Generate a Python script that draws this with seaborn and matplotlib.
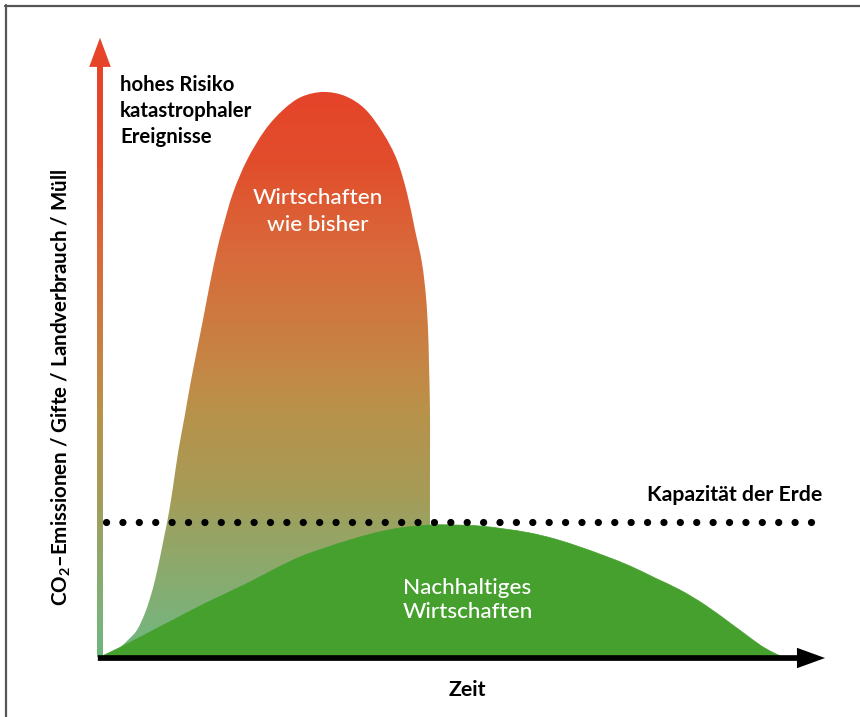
import numpy as np
import pandas as pd
import matplotlib
matplotlib.use("Agg")
import matplotlib.pyplot as plt
import seaborn as sns
from matplotlib.colors import LinearSegmentedColormap
from matplotlib.patches import PathPatch, FancyArrow
from matplotlib.path import Path
from matplotlib.lines import Line2D

sns.set_theme(style="white")
plt.rcParams["font.family"] = ["Lato", "DejaVu Sans"]
plt.rcParams["mathtext.fontset"] = "custom"
plt.rcParams["mathtext.rm"] = "Lato"
plt.rcParams["mathtext.bf"] = "Lato:bold"

# ---------------- data (time 0..100, level 0..100) ----------------
green_t = [0, 3.47, 6.94, 10.42, 13.89, 17.36, 20.83, 24.31, 27.78, 31.25, 34.72,
           38.19, 41.67, 45.83, 49.31, 52.78, 56.25, 59.72, 63.19, 66.67, 70.14,
           73.61, 77.08, 80.56, 84.03, 87.5, 89.58, 91.67, 93.33, 94.86]
green_v = [0, 2.0, 4.17, 6.33, 8.5, 10.5, 12.5, 14.67, 16.67, 18.17, 19.5,
           20.67, 21.5, 22.0, 22.0, 21.83, 21.33, 20.67, 19.67, 18.33, 16.83,
           15.17, 13.17, 11.17, 8.67, 5.67, 3.83, 2.0, 0.83, 0]

bau_t = [0, 1.11, 2.36, 3.89, 5.14, 6.25, 7.08, 7.64, 8.26, 8.82, 9.38, 9.86,
         10.28, 10.9, 11.74, 12.57, 13.47, 14.38, 15.28, 16.25, 17.08, 18.47,
         20.42, 22.92, 25.42, 27.92, 30.97, 34.03, 36.81, 39.31, 41.25, 42.64,
         43.75, 44.72, 45.28, 45.56, 45.69, 45.83, 45.83, 45.83, 45.83]
bau_v = [0, 0.33, 1.17, 2.83, 4.5, 7.33, 10.33, 12.83, 16.17, 19.5, 22.83,
         26.17, 29.5, 34.5, 40.0, 45.67, 51.17, 56.67, 62.33, 67.83, 71.67,
         77.33, 82.83, 87.83, 91.17, 93.33, 94.17, 93.5, 91.33, 87.33, 82.83,
         77.33, 71.17, 65.67, 60.0, 54.5, 49.0, 41.17, 32.83, 22.0, 0]

capacity = 22.5

grad_levels = [0, 4.5, 22.8, 26.2, 41.2, 46.2, 67.8, 82.8, 94.2, 103.2]
grad_colors = ["#6ab67e", "#78b47c", "#9ca160", "#a49c58", "#b9924a",
               "#c28a46", "#d9693a", "#e24d2c", "#e5442a", "#e8452a"]


def smooth_closed_path(xs, ys):
    """Bezier path through the read points, closed along the baseline."""
    P = np.column_stack([xs, ys]).astype(float)
    ext = np.vstack([P[0], P, P[-1]])
    verts = [P[0]]
    codes = [Path.MOVETO]
    for i in range(len(P) - 1):
        p0, p1, p2, p3 = ext[i], ext[i + 1], ext[i + 2], ext[i + 3]
        verts += [p1 + (p2 - p0) / 6.0, p2 - (p3 - p1) / 6.0, p2]
        codes += [Path.CURVE4] * 3
    verts.append(P[0])
    codes.append(Path.CLOSEPOLY)
    return Path(np.array(verts), codes)


# ---------------- figure ----------------
W, H, DPI = 860, 717, 100
fig = plt.figure(figsize=(W / DPI, H / DPI), dpi=DPI)
fig.patch.set_facecolor("white")
ax = fig.add_axes([100 / W, 60 / H, 720 / W, 600 / H])
ax.axis("off")

top = grad_levels[-1]
cmap = LinearSegmentedColormap.from_list(
    "bau", [(l / top, c) for l, c in zip(grad_levels, grad_colors)])
grad = np.linspace(0, 1, 512).reshape(-1, 1)

# business-as-usual shape with vertical gradient
bau_patch = PathPatch(smooth_closed_path(bau_t, bau_v), facecolor="none",
                      edgecolor="none", transform=ax.transData)
ax.add_patch(bau_patch)
im = ax.imshow(grad, cmap=cmap, origin="lower", aspect="auto",
               extent=[0, 47, 0, top], zorder=1, interpolation="bilinear")
im.set_clip_path(bau_patch)

# sustainable shape
green_patch = PathPatch(smooth_closed_path(green_t, green_v),
                        facecolor="#46a02e", edgecolor="#46a02e", lw=0.5,
                        zorder=2)
ax.add_patch(green_patch)

# capacity dotted line
cap_df = pd.DataFrame({"t": [0.83, 99.6], "v": [capacity, capacity]})
sns.lineplot(data=cap_df, x="t", y="v", ax=ax, color="black", lw=5.2,
             linestyle=(0, (0.01, 2.26)), dash_capstyle="round", zorder=4,
             legend=False)

# y arrow (gradient)
yarr = FancyArrow(0, -0.17, 0, top + 0.17, width=0.83, head_width=3.0,
                  head_length=4.85, length_includes_head=True,
                  facecolor="none", edgecolor="none", transform=ax.transData)
ax.add_patch(yarr)
yarr.set_clip_on(False)
im2 = ax.imshow(grad, cmap=cmap, origin="lower", aspect="auto",
                extent=[-2, 2, 0, top], zorder=3, interpolation="bilinear")
im2.set_clip_box(fig.bbox)
im2.set_clip_path(yarr)

ax.set_xlim(0, 100)
ax.set_ylim(0, 100)

# x arrow
xarr = FancyArrow(-0.3, -0.17, 101.0, 0, width=0.95, head_width=3.4,
                  head_length=3.9, length_includes_head=True,
                  facecolor="black", edgecolor="none", zorder=5,
                  clip_on=False)
ax.add_patch(xarr)

# texts
ax.text(2.78, 91.0, "hohes Risiko\nkatastrophaler\nEreignisse", ha="left",
        va="center", fontsize=14.7, fontweight="bold", color="black",
        linespacing=1.4, zorder=6)
ax.text(30.3, 74.3, "Wirtschaften\nwie bisher", ha="center", va="center",
        fontsize=16.2, fontweight="medium", color="white", linespacing=1.45,
        zorder=6)
ax.text(42.1, 9.5, "Nachhaltiges\nWirtschaften", ha="left", va="center",
        fontsize=16.2, fontweight="medium", color="white", linespacing=1.3,
        zorder=6)
ax.text(100.3, 27.0, "Kapazität der Erde", ha="right", va="center",
        fontsize=15.3, fontweight="bold", color="black", zorder=6)
ax.text(51.0, -5.5, "Zeit", ha="center", va="center", fontsize=15.3,
        fontweight="bold", color="black", clip_on=False, zorder=6)
ax.text(-5.4, 45.0, r"CO$_\mathbf{2}$–Emissionen / Gifte / Landverbrauch / Müll",
        ha="center", va="center", rotation=90, fontsize=14.8,
        fontweight="bold", color="black", clip_on=False, zorder=6)

# frame (top and left)
fig.add_artist(Line2D([5 / W, 1], [1 - 5.5 / H, 1 - 5.5 / H],
                      color="#555555", lw=1.6, transform=fig.transFigure))
fig.add_artist(Line2D([5.5 / W, 5.5 / W], [0, 1 - 5 / H],
                      color="#555555", lw=1.6, transform=fig.transFigure))

fig.savefig("out.png", dpi=DPI, facecolor="white")
